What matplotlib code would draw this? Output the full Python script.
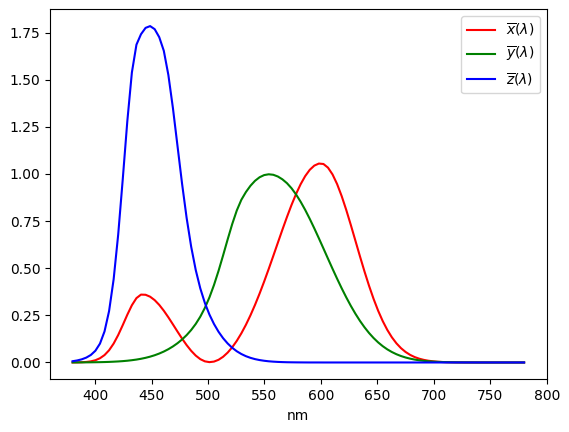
import matplotlib
matplotlib.use("Agg")
import matplotlib.pyplot as plt

# wavelength grid: 100 evenly spaced samples from 380 to 780 nm
wavelengths = [380 + i * 400 / 99 for i in range(100)]

x_bar = [
    0.0002, 0.0005, 0.0012, 0.0028, 0.0060, 0.0119, 0.0224, 0.0393, 0.0648, 0.1003,
    0.1456, 0.1983, 0.2533, 0.3036, 0.3414, 0.3600, 0.3591, 0.3488, 0.3306, 0.3054,
    0.2745, 0.2395, 0.2020, 0.1639, 0.1268, 0.0922, 0.0618, 0.0366, 0.0177, 0.0060,
    0.0018, 0.0047, 0.0142, 0.0302, 0.0524, 0.0806, 0.1147, 0.1545, 0.1998, 0.2503,
    0.3057, 0.3655, 0.4292, 0.4960, 0.5649, 0.6347, 0.7041, 0.7715, 0.8353, 0.8938,
    0.9454, 0.9885, 1.0218, 1.0442, 1.0550, 1.0527, 1.0333, 0.9971, 0.9460, 0.8823,
    0.8091, 0.7295, 0.6466, 0.5635, 0.4828, 0.4067, 0.3368, 0.2742, 0.2195, 0.1728,
    0.1337, 0.1017, 0.0760, 0.0559, 0.0404, 0.0287, 0.0201, 0.0138, 0.0093, 0.0062,
    0.0040, 0.0026, 0.0016, 0.0010, 0.0006, 0.0004, 0.0002, 0.0001, 0.0001, 0.0000,
    0.0000, 0.0000, 0.0000, 0.0000, 0.0000, 0.0000, 0.0000, 0.0000, 0.0000, 0.0000,
]

y_bar = [
    0.0002, 0.0004, 0.0005, 0.0007, 0.0009, 0.0013, 0.0017, 0.0023, 0.0031, 0.0042,
    0.0055, 0.0072, 0.0093, 0.0121, 0.0154, 0.0196, 0.0247, 0.0309, 0.0384, 0.0474,
    0.0580, 0.0705, 0.0851, 0.1021, 0.1219, 0.1450, 0.1722, 0.2044, 0.2429, 0.2894,
    0.3451, 0.4108, 0.4859, 0.5680, 0.6527, 0.7343, 0.8061, 0.8628, 0.9038, 0.9373,
    0.9636, 0.9824, 0.9939, 0.9981, 0.9955, 0.9864, 0.9714, 0.9510, 0.9242, 0.8911,
    0.8525, 0.8091, 0.7617, 0.7112, 0.6586, 0.6047, 0.5504, 0.4966, 0.4441, 0.3935,
    0.3455, 0.3005, 0.2589, 0.2209, 0.1868, 0.1563, 0.1296, 0.1064, 0.0865, 0.0696,
    0.0555, 0.0438, 0.0342, 0.0265, 0.0203, 0.0154, 0.0115, 0.0086, 0.0063, 0.0046,
    0.0033, 0.0024, 0.0017, 0.0012, 0.0008, 0.0006, 0.0004, 0.0003, 0.0002, 0.0001,
    0.0001, 0.0000, 0.0000, 0.0000, 0.0000, 0.0000, 0.0000, 0.0000, 0.0000, 0.0000,
]

z_bar = [
    0.0067, 0.0107, 0.0167, 0.0258, 0.0398, 0.0622, 0.0999, 0.1646, 0.2726, 0.4412,
    0.6789, 0.9725, 1.2800, 1.5381, 1.6855, 1.7411, 1.7746, 1.7840, 1.7677, 1.7252,
    1.6531, 1.5248, 1.3489, 1.1488, 0.9488, 0.7673, 0.6140, 0.4904, 0.3929, 0.3159,
    0.2543, 0.2042, 0.1629, 0.1288, 0.1008, 0.0779, 0.0595, 0.0449, 0.0334, 0.0246,
    0.0178, 0.0128, 0.0091, 0.0063, 0.0044, 0.0030, 0.0020, 0.0013, 0.0009, 0.0006,
    0.0004, 0.0002, 0.0001, 0.0001, 0.0001, 0.0000, 0.0000, 0.0000, 0.0000, 0.0000,
    0.0000, 0.0000, 0.0000, 0.0000, 0.0000, 0.0000, 0.0000, 0.0000, 0.0000, 0.0000,
    0.0000, 0.0000, 0.0000, 0.0000, 0.0000, 0.0000, 0.0000, 0.0000, 0.0000, 0.0000,
    0.0000, 0.0000, 0.0000, 0.0000, 0.0000, 0.0000, 0.0000, 0.0000, 0.0000, 0.0000,
    0.0000, 0.0000, 0.0000, 0.0000, 0.0000, 0.0000, 0.0000, 0.0000, 0.0000, 0.0000,
]

labels = [r"$\overline{x}(\lambda)$", r"$\overline{y}(\lambda)$", r"$\overline{z}(\lambda)$"]
colors = ["red", "green", "blue"]
xticks = [400, 450, 500, 550, 600, 650, 700, 750, 800]
yticks = [0.0, 0.25, 0.5, 0.75, 1.0, 1.25, 1.5, 1.75]

fig = plt.figure(figsize=(5.69, 4.32), dpi=100)
ax = fig.add_axes([0.0879, 0.1220, 0.8729, 0.8565])
for vals, lab, col in zip([x_bar, y_bar, z_bar], labels, colors):
    ax.plot(wavelengths, vals, color=col, label=lab)
ax.set_xlabel("nm")
ax.set_xticks(xticks)
ax.set_yticks(yticks)
ax.legend(loc="upper right")
fig.savefig("out.png", dpi=100)
